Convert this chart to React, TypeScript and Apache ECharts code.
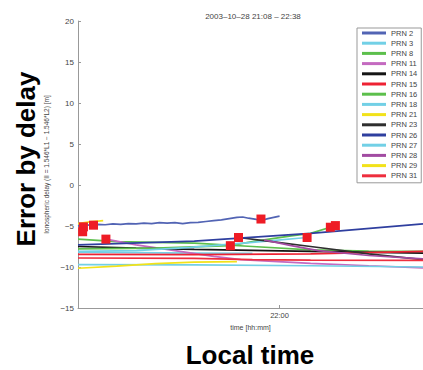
import React, { useEffect, useRef } from "react";
import * as echarts from "echarts";

// minutes after 21:08, ionospheric delay [m]
const PRN2: [number, number][] = [
  [0, -5.0], [1.5, -4.85], [3, -4.9], [5, -4.8], [7, -4.85], [9, -4.75], [11, -4.8], [13, -4.7],
  [15, -4.75], [17, -4.65], [19, -4.7], [21, -4.6], [23, -4.65], [25, -4.6], [27, -4.7], [29, -4.6],
  [31, -4.55], [33, -4.45], [35, -4.35], [37, -4.25], [39, -4.1], [41, -3.95], [42.5, -3.9],
  [44, -4.05], [46, -4.2], [47.5, -4.3], [49, -4.1], [50.5, -3.95], [52, -3.8],
];
const PRN3: [number, number][] = [[0, -8.2], [15, -8.25], [30, -8.3], [45, -8.35]];
const PRN8: [number, number][] = [[0, -6.6], [10, -6.9], [20, -7.0], [30, -7.1], [45, -7.5], [60, -7.9], [75, -8.05], [89, -8.1]];
const PRN11: [number, number][] = [[7.2, -6.6], [15, -7.3], [25, -8.0], [35, -8.7], [42, -9.1], [60, -9.55], [75, -9.85], [89, -10.1]];
const PRN14: [number, number][] = [[0, -7.5], [15, -7.7], [30, -7.85], [60, -8.1], [89, -8.3]];
const PRN15: [number, number][] = [[0, -8.45], [30, -8.5], [60, -8.4], [89, -8.1]];
const PRN16: [number, number][] = [[0, -7.8], [20, -7.7], [39.3, -7.4], [45, -6.9], [55, -6.2], [60, -5.9], [65.1, -5.15], [66.4, -4.95]];
const PRN18: [number, number][] = [[0, -8.1], [15, -8.0], [29, -7.6], [45, -7.0], [59.1, -6.4]];
const PRN21: [number, number][] = [[0, -4.7], [3, -4.5], [6.5, -4.35]];
const PRN23: [number, number][] = [[41.4, -6.4], [50, -6.9], [60, -7.5], [75, -8.4], [89, -9.1]];
const PRN26: [number, number][] = [[0, -7.3], [30, -6.85], [60, -5.9], [89, -4.75]];
const PRN27: [number, number][] = [[0, -9.7], [30, -9.75], [60, -9.85], [89, -10.0]];
const PRN28: [number, number][] = [[48, -6.7], [55, -7.4], [62, -8.0], [75, -8.6], [89, -9.0]];
const PRN29: [number, number][] = [[0, -10.15], [10, -9.9], [20, -9.6], [30, -9.4], [41, -9.35]];
const PRN31: [number, number][] = [[0, -8.9], [30, -8.95], [45, -9.1], [60, -9.15], [89, -9.2]];

const MARKERS: [number, number][] = [
  [1.4, -5.1], [1.2, -5.7], [4, -4.9], [7.2, -6.6], [39.3, -7.4], [41.4, -6.4],
  [47.2, -4.15], [59.1, -6.4], [65.1, -5.15], [66.4, -4.95],
];

const NAMES = ["PRN 2", "PRN 3", "PRN 8", "PRN 11", "PRN 14", "PRN 15", "PRN 16", "PRN 18", "PRN 21", "PRN 23", "PRN 26", "PRN 27", "PRN 28", "PRN 29", "PRN 31"];
const DATA = [PRN2, PRN3, PRN8, PRN11, PRN14, PRN15, PRN16, PRN18, PRN21, PRN23, PRN26, PRN27, PRN28, PRN29, PRN31];
const COLORS = ["#5264b4", "#72d0e6", "#5cbf4c", "#c46ac0", "#151515", "#ee2233", "#5cbf4c", "#72d0e6", "#f2e21a", "#2f2f2f", "#2f3f9f", "#72d0e6", "#a24ca2", "#f2e21a", "#ee2e3e"];

const X_MIN = 0;
const X_MAX = 89;
const X_LABELS = [52];
const START_MIN = 21 * 60 + 8;

function fmtTime(v: number) {
  const m = START_MIN + v;
  const h = Math.floor(m / 60);
  const mm = Math.round(m % 60);
  return `${h}:${mm < 10 ? "0" : ""}${mm}`;
}

export default function App() {
  const ref = useRef<HTMLDivElement>(null);
  useEffect(() => {
    if (!ref.current) return;
    const chart = echarts.init(ref.current, null, { renderer: "svg" });
    const font = "Liberation Sans";
    const lines = NAMES.map((n, i) => ({
      name: n,
      type: "line",
      data: DATA[i],
      showSymbol: false,
      symbol: "none",
      lineStyle: { color: COLORS[i], width: 1.7 },
      itemStyle: { color: COLORS[i] },
      z: 2,
    }));
    chart.setOption({
      animation: false,
      backgroundColor: "#fff",
      textStyle: { fontFamily: font },
      title: {
        text: "2003\u201310\u201328 21:08 \u2013 22:38",
        left: 248,
        top: 7,
        textAlign: "center",
        textStyle: { fontSize: 8, fontWeight: "normal", color: "#444", fontFamily: font },
      },
      legend: {
        data: NAMES,
        orient: "vertical",
        left: 357,
        top: 28,
        icon: "rect",
        itemWidth: 24,
        itemHeight: 3,
        itemGap: 0.2,
        padding: [0, 4, 2, 5],
        borderColor: "#999",
        borderWidth: 1,
        backgroundColor: "#fff",
        textStyle: { fontSize: 7.5, lineHeight: 10, color: "#444", fontFamily: font },
        selectedMode: false,
      },
      grid: { left: 78, right: 0, top: 21, bottom: 62 },
      xAxis: {
        type: "value",
        min: X_MIN,
        max: X_MAX,
        name: "time [hh:mm]",
        nameLocation: "middle",
        nameGap: 16,
        nameTextStyle: { fontSize: 7, color: "#444", fontFamily: font },
        axisLine: { show: true, onZero: false, lineStyle: { color: "#999", width: 1 } },
        axisTick: { show: true, inside: true, length: 3, customValues: X_LABELS, lineStyle: { color: "#999" } },
        axisLabel: { customValues: X_LABELS, formatter: (v: number) => fmtTime(v), fontSize: 7.5, color: "#444", margin: 3 },
        splitLine: { show: false },
      },
      yAxis: {
        type: "value",
        min: -15,
        max: 20,
        interval: 5,
        name: "Ionospheric delay (II = 1.546*L1 \u2212 1.546*L2) [m]",
        nameLocation: "middle",
        nameGap: 24,
        nameTextStyle: { fontSize: 6.5, color: "#444", fontFamily: font },
        axisLine: { show: true, onZero: false, lineStyle: { color: "#999", width: 1 } },
        axisTick: { show: true, inside: true, length: 3, lineStyle: { color: "#999" } },
        axisLabel: {
          formatter: (v: number) => (v < 0 ? "\u2212" + Math.abs(v) : String(v)),
          fontSize: 8,
          color: "#444",
          margin: 4,
        },
        splitLine: { show: false },
      },
      series: [
        ...lines,
        {
          name: "markers",
          type: "scatter",
          data: MARKERS,
          symbol: "rect",
          symbolSize: 9,
          itemStyle: { color: "#ee1c25", opacity: 1 },
          z: 5,
        },
      ],
      graphic: [
        {
          type: "text",
          x: 26,
          y: 159,
          rotation: Math.PI / 2,
          style: {
            text: "Error by delay",
            font: "bold 26px 'Liberation Sans'",
            fill: "#000",
            textAlign: "center",
            textVerticalAlign: "middle",
          },
        },
        {
          type: "text",
          x: 250,
          y: 355,
          style: {
            text: "Local time",
            font: "bold 26px 'Liberation Sans'",
            fill: "#000",
            textAlign: "center",
            textVerticalAlign: "middle",
          },
        },
      ],
    });
    return () => chart.dispose();
  }, []);
  return <div ref={ref} style={{ position: "absolute", left: 0, top: 0, width: 423, height: 370 }} />;
}
